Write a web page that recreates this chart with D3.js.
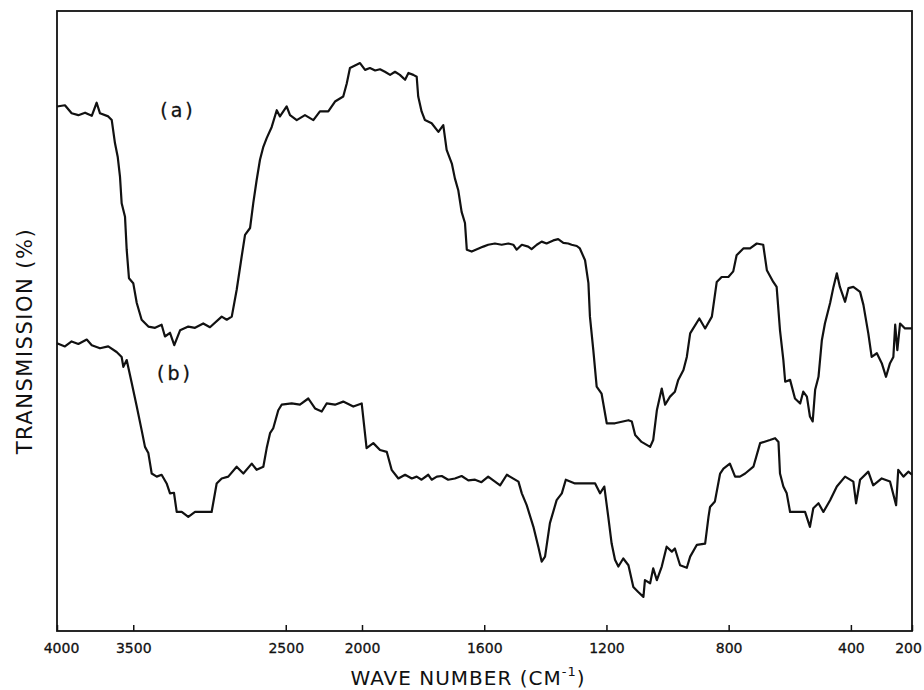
<!DOCTYPE html>
<html>
<head>
<meta charset="utf-8">
<script src="https://cdn.jsdelivr.net/npm/d3@7"></script>
<style>
  body { margin: 0; background: #fff; }
  svg { display: block; }
</style>
</head>
<body>
<div id="chart"></div>
<script>
// wave numbers (cm-1) and transmission (arbitrary %, no ticks on the y axis)
var waveA = [4000,3948,3904,3860,3816,3772,3740,3718,3664,3641,
  3620,3602,3587,3576,3554,3543,3528,3500,3477,3445,
  3401,3357,3314,3292,3259,3231,3193,3139,3095,3041,
  2997,2920,2887,2854,2822,2789,2767,2734,2713,2691,
  2669,2647,2625,2592,2559,2538,2494,2472,2428,2374,
  2319,2276,2221,2177,2123,2100,2079,
  2013,1990,1974,1957,1941,1925,1908,1892,1876,1859,1848,1832,1821,1816,
  1805,1794,1772,1750,1734,1723,1706,1696,1685,1674,1663,1657,1641,
  1603,1587,1565,1543,1521,1505,1494,1477,1456,1445,1428,1412,1396,1374,1358,1341,1325,1314,1297,1287,1270,
  1259,1254,1243,1232,1216,1199,1172,1128,1117,1106,1085,
  1057,1047,1035,1019,1008,992,976,965,948,937,
  926,916,896,877,855,839,823,801,785,774,
  752,730,708,687,675,654,643,632,621,615,
  599,583,566,556,544,534,525,517,506,495,
  485,468,457,446,436,419,408,392,370,359,
  343,332,315,299,285,272,261,255,248,239,
  223,200];
var transA = [84.6,84.8,83.5,83.2,83.6,83.1,85.2,83.5,83.0,82.4,
  78.7,76.5,73.3,69.0,66.8,61.5,56.9,56.1,52.9,50.2,
  49.1,48.9,49.4,47.5,48.1,46.1,48.5,49.1,48.9,49.6,
  49.0,50.7,50.2,50.7,55.0,60.4,63.9,65.0,69.0,72.7,
  76.0,78.1,79.5,81.3,84.0,83.0,84.6,83.2,82.4,83.2,
  82.4,83.8,83.8,85.4,86.2,88.3,90.8,
  91.6,90.5,90.8,90.4,90.6,90.2,89.7,90.2,89.7,88.9,90.0,89.7,89.4,86.2,
  83.8,82.4,81.9,80.5,81.6,77.6,75.4,73.0,71.1,67.6,65.8,61.5,61.2,
  62.0,62.3,62.5,62.3,62.5,62.3,61.5,62.3,62.0,61.6,62.3,62.8,62.5,63.0,63.2,62.6,62.5,62.3,62.1,61.7,59.8,
  56.1,50.7,45.3,39.4,38.3,33.5,33.5,34.0,33.8,31.6,30.5,
  29.7,30.8,35.6,39.1,36.5,37.8,38.6,40.5,42.1,44.2,
  48.0,48.8,50.4,48.8,50.7,56.3,57.1,57.1,58.0,60.6,
  61.7,61.7,62.5,62.3,58.2,56.3,55.5,48.5,43.7,40.2,
  40.5,37.5,36.7,38.6,37.8,34.6,33.8,38.9,41.0,46.9,
  49.6,52.9,55.5,57.7,55.5,53.1,55.3,55.5,54.7,52.6,
  48.0,44.2,44.8,43.2,41.0,43.2,44.2,49.4,45.3,49.6,
  48.8,48.8];

var waveB = [4000,3948,3904,3860,3805,3772,3718,3664,3609,3576,
  3565,3543,3510,3477,3445,3423,3401,3379,3346,3314,
  3281,3259,3233,3215,3182,3139,3095,3041,2986,2953,
  2920,2877,2822,2778,2723,2691,2647,2625,2603,2582,
  2549,2527,2461,2407,2352,2308,2264,2232,2177,2123,
  2057,2002,1985,1963,1941,1919,
  1903,1881,1859,1837,1821,1805,1783,1772,1755,1739,1718,1696,1674,1652,1630,1609,1587,1548,
  1526,1488,1477,1461,1439,
  1423,1412,1401,1385,1363,1346,1333,1303,1265,1237,
  1221,1207,1194,1183,1172,1161,1145,1128,1112,1096,
  1079,1074,1057,1047,1035,1019,1003,986,976,959,
  937,926,904,877,866,861,845,828,817,796,
  779,763,746,719,697,665,648,637,632,621,
  610,599,577,550,534,523,506,490,468,446,
  419,392,383,370,343,327,299,272,252,245,
  228,212,200];
var transB = [46.4,45.9,46.7,46.3,47.0,46.1,45.6,45.9,45.0,44.2,
  42.6,43.7,40.0,36.2,32.4,29.7,28.7,25.4,24.9,25.2,
  23.8,22.2,22.3,19.2,19.2,18.4,19.2,19.2,19.2,23.8,
  24.6,24.9,26.5,25.4,27.0,26.0,26.5,29.5,31.9,32.7,
  35.6,36.5,36.7,36.5,37.5,35.9,35.4,36.7,36.5,37.0,
  36.2,36.7,29.5,30.3,29.2,28.9,
  26.0,24.6,25.2,24.6,24.9,24.4,25.2,24.4,24.9,25.0,24.4,24.6,25.0,24.3,24.4,24.0,24.9,23.5,
  25.2,24.1,22.2,20.3,16.8,
  13.6,11.2,12.0,17.4,21.1,22.2,24.4,23.8,23.8,23.8,
  22.2,23.3,18.4,14.1,11.5,10.4,11.7,10.6,7.1,6.3,
  5.5,8.2,7.7,10.1,8.2,10.4,13.6,12.8,13.3,10.6,
  10.2,12.0,13.9,14.1,18.4,20.0,20.9,25.4,26.2,27.0,
  24.9,24.9,25.4,26.5,30.3,30.8,31.1,30.5,25.4,23.3,
  22.2,19.2,19.2,19.2,16.8,19.8,20.6,19.2,21.1,23.3,
  24.9,24.1,20.6,24.4,25.7,23.5,24.6,24.1,20.3,26.0,
  24.9,25.7,25.2];

var tickLabels = [4000, 3500, 2500, 2000, 1600, 1200, 800, 400, 200];
var curveNames = ['(a)', '(b)'];

var W = 924, H = 690;
var margin = { top: 11, right: 12, bottom: 59, left: 57 };
var x0 = margin.left, x1 = W - margin.right,
    y0 = margin.top, y1 = H - margin.bottom;

var svg = d3.select('#chart').append('svg')
    .attr('width', W).attr('height', H);

// scale changes at 2000 cm-1 (chart expansion)
var x = d3.scaleLinear().domain([4000, 2000, 200]).range([x0, 362, x1]);
var y = d3.scaleLinear().domain([0, 100]).range([y1, y0]);

// frame
svg.append('rect')
    .attr('x', x0).attr('y', y0)
    .attr('width', x1 - x0).attr('height', y1 - y0)
    .attr('fill', 'none').attr('stroke', '#111').attr('stroke-width', 1.8);

// x axis, ticks point inward
var gx = svg.append('g')
    .attr('transform', `translate(0,${y1})`)
    .call(d3.axisBottom(x).tickValues(tickLabels).tickSizeInner(-6).tickSizeOuter(0).tickPadding(12).tickFormat(d3.format('d')));
gx.select('.domain').remove();
gx.selectAll('line').attr('stroke', '#111').attr('stroke-width', 1.5);
gx.selectAll('text')
    .attr('font-family', 'DejaVu Sans').attr('font-size', 14)
    .attr('fill', '#111').attr('stroke', '#111').attr('stroke-width', 0.3)
    .attr('dx', d => d == 4000 ? 4 : (d == 200 ? -4 : 0));

var line = d3.line().x(d => x(d[0])).y(d => y(d[1]));

var series = [d3.zip(waveA, transA), d3.zip(waveB, transB)];
svg.selectAll('path.spec')
    .data(series)
    .enter().append('path')
    .attr('class', 'spec')
    .attr('d', line)
    .attr('fill', 'none')
    .attr('stroke', '#111')
    .attr('stroke-width', 2.2)
    .attr('stroke-linejoin', 'round');

// curve labels
svg.selectAll('text.lab')
    .data(curveNames)
    .enter().append('text')
    .attr('class', 'lab')
    .attr('x', (d, i) => i == 0 ? 178 : 175)
    .attr('y', (d, i) => i == 0 ? 117 : 380)
    .attr('text-anchor', 'middle')
    .attr('font-family', 'DejaVu Sans')
    .attr('font-size', 19)
    .attr('letter-spacing', 3)
    .attr('fill', '#111').attr('stroke', '#111').attr('stroke-width', 0.3)
    .text(d => d);

// axis titles
var xt = svg.append('text')
    .attr('x', 468).attr('y', 685)
    .attr('text-anchor', 'middle')
    .attr('font-family', 'DejaVu Sans')
    .attr('font-size', 20)
    .attr('letter-spacing', 1)
    .attr('fill', '#111');
xt.append('tspan').text('WAVE NUMBER (CM');
xt.append('tspan').attr('font-size', 13).attr('dy', -9).text('-1');
xt.append('tspan').attr('dy', 9).text(')');

svg.append('text')
    .attr('transform', 'translate(32,341) rotate(-90)')
    .attr('text-anchor', 'middle')
    .attr('font-family', 'DejaVu Sans')
    .attr('font-size', 21)
    .attr('letter-spacing', 1.5)
    .attr('fill', '#111')
    .text('TRANSMISSION (%)');
</script>
</body>
</html>
